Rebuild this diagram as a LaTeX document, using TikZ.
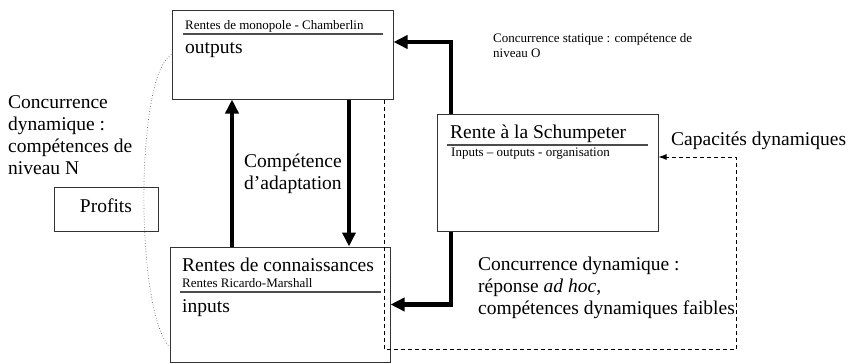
\documentclass[tikz,border=0pt]{standalone}
\usepackage{fontspec}
\setmainfont{Liberation Serif}
\usetikzlibrary{arrows.meta}

\tikzset{
  box/.style={draw=black!80, line width=1pt, inner sep=0pt},
  rule/.style={draw=black!70, line width=1.2pt},
  bigtext/.style={font=\fontsize{19.5}{22}\selectfont, inner sep=0pt},
  smalltext/.style={font=\fontsize{13}{15}\selectfont, inner sep=0pt},
  heavy/.style={line width=4.8pt, -{Triangle[length=14pt,width=13pt]}},
  feedback/.style={line width=0.9pt, dash pattern=on 4pt off 3pt, -{Latex[length=8pt,width=6pt]}},
  link/.style={black!60, line width=0.7pt, dotted}
}

\begin{document}
\begin{tikzpicture}[x=1pt,y=-1pt]
  \useasboundingbox (0,0) rectangle (849,364);

    \node[box, minimum width=221pt, minimum height=89pt] (monop) at (282.5,54.5) {};
    \node[box, minimum width=220pt, minimum height=115pt] (conn) at (280,304.5) {};
    \node[box, minimum width=221pt, minimum height=117pt] (schump) at (547.5,172.5) {};
    \node[box, minimum width=104pt, minimum height=44pt] (profits) at (106,209) {};

    \node[smalltext, anchor=base west] (monoptitle) at (185,29) {Rentes de monopole - Chamberlin};
    \draw[rule] (183,34) -- (383,34);
    \node[bigtext, anchor=base west] (outputs) at (185,53) {outputs};

    \node[bigtext, anchor=base west] (conntitle) at (182,271) {Rentes de connaissances};
    \node[smalltext, anchor=base west] (connsub) at (182,287) {Rentes Ricardo-Marshall};
    \draw[rule] (180,292) -- (381,292);
    \node[bigtext, anchor=base west] (inputs) at (182,312) {inputs};

    \node[bigtext, anchor=base west] (schumptitle) at (450,138) {Rente à la Schumpeter};
    \draw[rule] (447,145) -- (648,145);
    \node[smalltext, anchor=base west] (schumpsub) at (451,156) {Inputs -- outputs - organisation};

    \node[bigtext, anchor=base] (profitslabel) at (106,212) {Profits};

    \node[bigtext, anchor=base west, align=left] (dynN) at (8,174) {Concurrence\\dynamique :\\compétences de\\niveau N};
    \node[bigtext, anchor=base west, align=left] (adapt) at (244,189) {Compétence\\d’adaptation};
    \node[smalltext, anchor=base west, align=left] (statique) at (493,57) {Concurrence statique : compétence de\\niveau O};
    \node[bigtext, anchor=base west] (capdyn) at (671,145) {Capacités dynamiques};
    \node[bigtext, anchor=base west, align=left] (dynfaible) at (478,314) {Concurrence dynamique :\\réponse \textit{ad hoc},\\compétences dynamiques faibles};

    \draw[heavy] ([xshift=-48pt]conn.north) -- ([xshift=-48pt]conn.north |- monop.south);
    \draw[heavy] ([xshift=66.5pt]monop.south) -- ([xshift=66.5pt]monop.south |- conn.north);
    \draw[heavy] ([xshift=-96.5pt]schump.north) |- ([yshift=12.5pt]monop.east);
    \draw[heavy] ([xshift=-96.5pt]schump.south) |- (conn.east);

    \coordinate (dashcorner) at (736,349);
    \draw[feedback] ([xshift=101.5pt]monop.south) |- (dashcorner) |- ([yshift=15.5pt]schump.east);
    \draw[link] (monop.west) .. controls (135,75) and (135,310) .. ([yshift=-42.5pt]conn.west);

\end{tikzpicture}
\end{document}
